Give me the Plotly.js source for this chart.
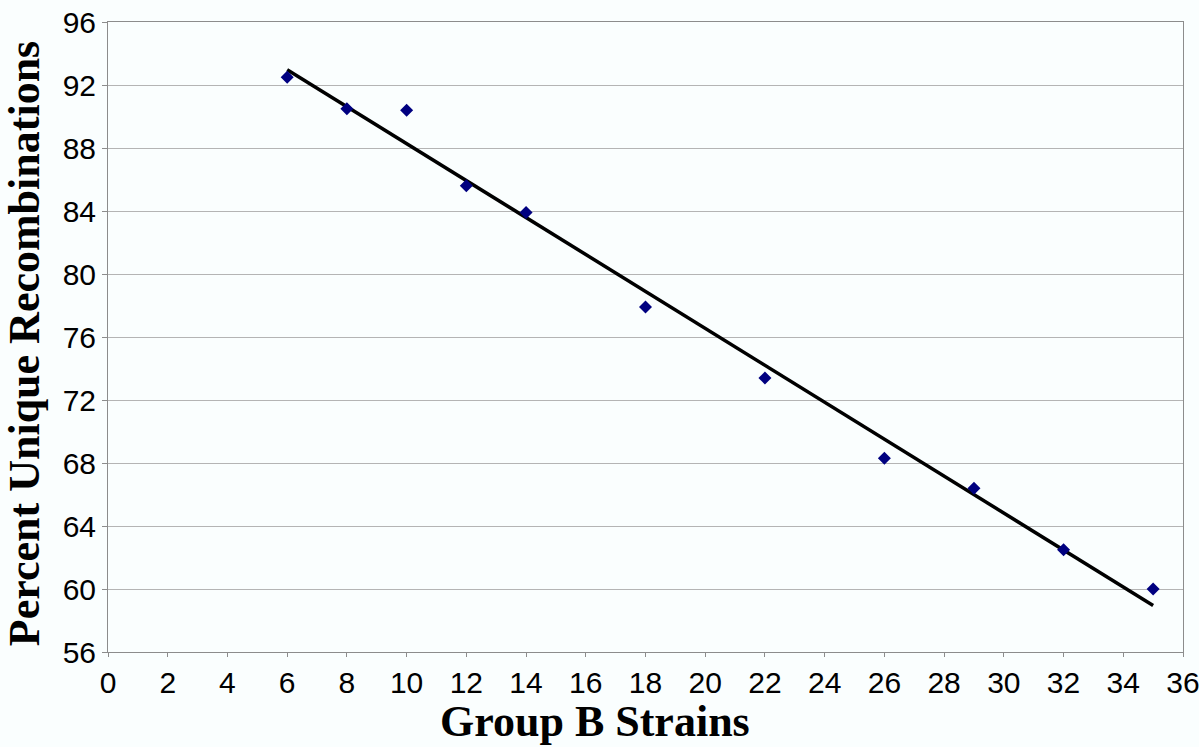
<!DOCTYPE html>
<html>
<head>
<meta charset="utf-8">
<script src="https://cdn.plot.ly/plotly-3.0.1.min.js"></script>
<style>html,body{margin:0;padding:0;background:#FAFEFE;}#chart{width:1199px;height:747px;}</style>
</head>
<body>
<div id="chart"></div>
<script>
// Data
const strains = [6, 8, 10, 12, 14, 18, 22, 26, 29, 32, 35];
const percentUnique = [92.5, 90.5, 90.4, 85.6, 83.9, 77.9, 73.4, 68.3, 66.4, 62.5, 60.0];
const xTickVals = [0,2,4,6,8,10,12,14,16,18,20,22,24,26,28,30,32,34,36];
const yTickVals = [56,60,64,68,72,76,80,84,88,92,96];

// Linear trendline (least squares fit of the data)
const n = strains.length;
const mx = strains.reduce((a,b)=>a+b,0)/n;
const my = percentUnique.reduce((a,b)=>a+b,0)/n;
let sxy = 0, sxx = 0;
for (let i=0;i<n;i++){ sxy += (strains[i]-mx)*(percentUnique[i]-my); sxx += (strains[i]-mx)**2; }
const slope = sxy/sxx, intercept = my - slope*mx;
const trendX = [strains[0], strains[n-1]];
const trendY = trendX.map(x => intercept + slope*x);

const traces = [
  {x: trendX, y: trendY, mode: 'lines', type: 'scatter',
   line: {color: '#000000', width: 3.5}, hoverinfo: 'skip'},
  {x: strains, y: percentUnique, mode: 'markers', type: 'scatter',
   marker: {symbol: 'diamond', color: '#000080', size: 10, line: {width: 0}}}
];

const layout = {
  width: 1199, height: 747,
  margin: {l: 108, r: 16, t: 22, b: 95},
  paper_bgcolor: '#FAFEFE', plot_bgcolor: '#FAFEFE',
  showlegend: false,
  font: {family: 'Liberation Sans, Arial, sans-serif', color: '#000000'},
  xaxis: {
    range: [0, 36], tickvals: xTickVals, ticktext: xTickVals.map(String),
    showgrid: false, zeroline: false,
    showline: true, linecolor: '#8C8C8C', linewidth: 1, mirror: true,
    ticks: 'outside', ticklen: 4, tickcolor: '#8C8C8C',
    ticklabeloverflow: 'allow',
    tickfont: {size: 30, family: 'Liberation Sans, Arial, sans-serif'}
  },
  yaxis: {
    range: [56, 96], tickvals: yTickVals, ticktext: yTickVals.map(String),
    showgrid: true, gridcolor: '#B4B4B4', gridwidth: 1, zeroline: false,
    showline: true, linecolor: '#8C8C8C', linewidth: 1, mirror: true,
    ticks: 'outside', ticklen: 5, tickcolor: '#8C8C8C',
    ticklabeloverflow: 'allow',
    tickfont: {size: 30, family: 'Liberation Sans, Arial, sans-serif'}
  },
  annotations: [
    {text: 'Group B Strains', xref: 'paper', yref: 'paper', x: 0.453, y: -0.11,
     xanchor: 'center', yanchor: 'middle', showarrow: false,
     font: {family: 'Liberation Serif, Times New Roman, serif', size: 44, color: '#000000', weight: 'bold'}},
    {text: 'Percent Unique Recombinations', xref: 'paper', yref: 'paper', x: -0.077, y: 0.489,
     xanchor: 'center', yanchor: 'middle', showarrow: false, textangle: -90,
     font: {family: 'Liberation Serif, Times New Roman, serif', size: 44, color: '#000000', weight: 'bold'}}
  ]
};

Plotly.newPlot('chart', traces, layout, {displayModeBar: false, staticPlot: true});
</script>
</body>
</html>
